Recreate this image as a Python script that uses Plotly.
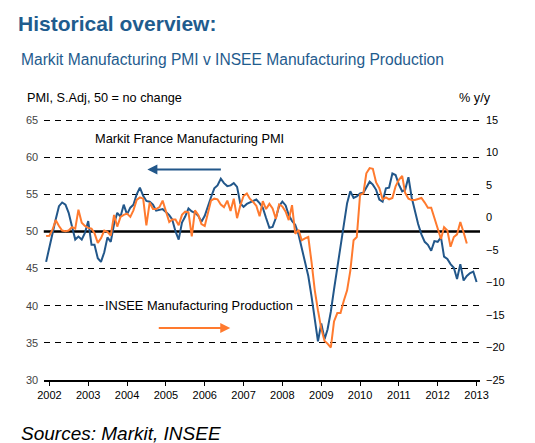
import pandas as pd
import plotly.graph_objects as go

# Markit France Manufacturing PMI, monthly Dec 2001 - Jan 2013 (left axis)
pmi = [
    45.9,
    48.0, 49.8, 51.6, 53.4, 53.9, 53.6, 52.5, 50.7, 48.9, 49.3, 48.9, 49.8,  # 2002
    51.4, 48.2, 48.2, 46.4, 45.9, 47.2, 49.2, 48.6, 51.0, 52.5, 52.0, 53.6,  # 2003
    52.3, 53.2, 53.6, 55.0, 55.9, 54.8, 54.1, 54.0, 53.6, 52.8, 52.9, 53.0,  # 2004
    52.6, 52.2, 51.6, 50.0, 48.9, 51.2, 52.0, 53.1, 52.7, 52.5, 52.1, 51.3,  # 2005
    52.1, 53.5, 54.6, 55.8, 56.2, 57.1, 56.5, 56.1, 56.2, 56.5, 56.0, 53.8,  # 2006
    53.3, 53.7, 53.9, 54.1, 54.3, 53.8, 53.2, 51.8, 50.5, 50.6, 51.8, 53.4,  # 2007
    54.0, 53.5, 52.2, 51.4, 50.9, 49.6, 47.9, 46.0, 44.0, 41.3, 38.0, 35.2,  # 2008
    37.6, 35.5, 36.8, 39.2, 42.2, 45.2, 47.8, 50.8, 53.8, 55.4, 54.5, 54.7,  # 2009
    55.1, 55.2, 56.0, 56.7, 56.3, 55.6, 54.3, 54.0, 55.8, 55.9, 57.8, 57.6,  # 2010
    56.3, 55.4, 55.6, 57.3, 54.6, 52.7, 51.0, 49.6, 48.6, 48.2, 47.4, 48.7,  # 2011
    48.6, 49.2, 46.6, 46.3, 45.6, 45.1, 43.6, 45.6, 43.4, 44.0, 44.4, 44.6,  # 2012
    43.2,
]

# INSEE manufacturing production, % y/y, Dec 2001 - Oct 2012 (right axis)
production = [
    -2.85,
    -2.8, -1.8, -0.4, -1.3, -2.0, -2.1, -2.0, -1.5, -1.7, 1.2, -0.8, -1.3,
    -1.6, -1.7, -2.4, -3.9, -3.2, -2.0, -2.2, -2.8, 0.4, -1.4, 0.1, 0.4,
    0.6, 0.1, 1.1, 2.7, 3.1, 2.9, -1.2, 2.3, 1.3, 1.3, 1.6, 2.6,
    1.0, -0.7, -0.3, -0.3, -1.2, 0.4, 0.9, 0.8, -2.9, 1.1, 0.4, -1.0,
    -1.3, 0.6, 2.6, 2.9, 2.8, 2.0, 1.6, 2.6, 1.0, 2.9, -0.1, 1.8,
    3.3, 3.7, 2.9, 2.4, 1.8, 0.2, 2.5, 1.3, 2.1, 1.4, -0.2, 2.0,
    1.7, 0.9, -0.4, 1.9, -2.5, -1.9, -3.5, -3.2, -3.0, -6.8, -11.2, -14.3,
    -17.1, -19.0, -19.4, -20.0, -16.0, -14.7, -14.7, -12.8, -11.2, -8.2, -3.5, -3.0,
    3.5, 3.7, 6.8, 7.6, 7.5, 5.4, 4.5, 2.8, 3.1, 2.8, 3.0, 4.8,
    5.8, 6.4, 3.8, 2.9, 2.7, 2.7, 2.8, 3.0, 2.3, 1.5, 1.5, 0.0,
    -1.5, -3.3, -1.5, -2.0, -4.5, -3.0, -2.6, -0.7, -2.3, -4.0,
]

pmi_ticks = [30, 35, 40, 45, 50, 55, 60, 65]
prod_ticks = [-25, -20, -15, -10, -5, 0, 5, 10, 15]

months = pd.date_range("2001-12-01", periods=len(pmi), freq="MS")
no_change = 50

BLUE = "#22578A"
ORANGE = "#FF7A2E"
TITLE_BLUE = "#1F5C8E"
FONT = "Liberation Sans"

# the page adds an 8px margin round the figure
W, H, OFF = 527, 435, 8
# page pixels: paper spans x 21.5..480, plot spans x 43..480, y 118..380
PAPER_L, PLOT_L, PLOT_R, PLOT_T, PLOT_B = 21.5, 43.3, 480, 118, 380
PX_PER_PMI = 260 / 35
PX_PER_PROD = 260 / 40

fig = go.Figure()
fig.add_trace(go.Scatter(x=months, y=pmi, mode="lines",
                         line=dict(color=BLUE, width=2), yaxis="y"))
fig.add_trace(go.Scatter(x=months[:len(production)], y=production, mode="lines",
                         line=dict(color=ORANGE, width=2), yaxis="y2"))

fig.add_hline(y=no_change, line=dict(color="black", width=2.5), layer="below")

fig.update_layout(
    template="none",
    width=W, height=H,
    margin=dict(l=PAPER_L - OFF, r=W + OFF - PLOT_R, t=PLOT_T - OFF,
                b=H + OFF - PLOT_B),
    paper_bgcolor="white", plot_bgcolor="white",
    showlegend=False,
    font=dict(family=FONT, size=11, color="black"),
    title=dict(text="<b>Historical overview:</b>", x=(18 - OFF) / W, xanchor="left",
               y=1 - (24 - OFF) / H, yanchor="middle",
               font=dict(family=FONT, size=21, color=TITLE_BLUE)),
    xaxis=dict(
        type="date",
        domain=[(PLOT_L - PAPER_L) / (PLOT_R - PAPER_L), 1],
        range=["2001-11-09", "2013-02-02"],
        tick0="2002-01-01", dtick="M12", tickformat="%Y",
        showgrid=False, zeroline=False,
        showline=True, linecolor="black", linewidth=1.5,
        ticks="outside", ticklen=4, tickcolor="black",
        tickfont=dict(size=11),
    ),
    yaxis=dict(
        anchor="free", position=0,
        range=[30, 30 + (PLOT_B - PLOT_T) / PX_PER_PMI], tickvals=pmi_ticks,
        showgrid=True, gridcolor="black", gridwidth=1, griddash="6px,5px",
        zeroline=False, showline=False, ticks="", automargin=False,
        ticklabelposition="inside", ticklabeloverflow="allow",
        tickfont=dict(size=11),
    ),
    yaxis2=dict(
        range=[-25, -25 + (PLOT_B - PLOT_T) / PX_PER_PROD], tickvals=prod_ticks,
        overlaying="y", side="right",
        showgrid=False, zeroline=False, showline=False, ticks="", automargin=False,
        ticklabelstandoff=5, tickfont=dict(size=11),
    ),
)

def px_x(p):
    return (p - PAPER_L) / (PLOT_R - PAPER_L)

def px_y(p):
    return (PLOT_B - p) / (PLOT_B - PLOT_T)

notes = [
    dict(text="Markit Manufacturing PMI v INSEE Manufacturing Production",
         x=px_x(18), y=px_y(60), xanchor="left",
         font=dict(size=15.6, color=TITLE_BLUE)),
    dict(text="PMI, S.Adj, 50 = no change", x=px_x(25), y=px_y(97.5),
         xanchor="left", font=dict(size=12.7)),
    dict(text="% y/y", x=px_x(493), y=px_y(97.5), xanchor="right",
         font=dict(size=12.7)),
    dict(text="<i>Sources: Markit, INSEE</i>", x=px_x(18), y=px_y(433),
         xanchor="left", font=dict(size=19)),
    dict(text="Markit France Manufacturing PMI", x=px_x(93), y=px_y(138),
         xanchor="left", font=dict(size=12.8)),
    dict(text="INSEE Manufacturing Production", x=px_x(103), y=px_y(305),
         xanchor="left", bgcolor="white", font=dict(size=12.8)),
]
for n in notes:
    fig.add_annotation(xref="paper", yref="paper", showarrow=False,
                       yanchor="middle", **n)

# direction arrows
fig.add_annotation(xref="paper", yref="paper", x=px_x(147), y=px_y(169.5),
                   ax=75, ay=0, text="", showarrow=True, arrowhead=2,
                   arrowsize=1, arrowwidth=2, arrowcolor=BLUE)
fig.add_annotation(xref="paper", yref="paper", x=px_x(230), y=px_y(328),
                   ax=-73, ay=0, text="", showarrow=True, arrowhead=2,
                   arrowsize=1, arrowwidth=2, arrowcolor=ORANGE)

fig.write_html("out.html")
